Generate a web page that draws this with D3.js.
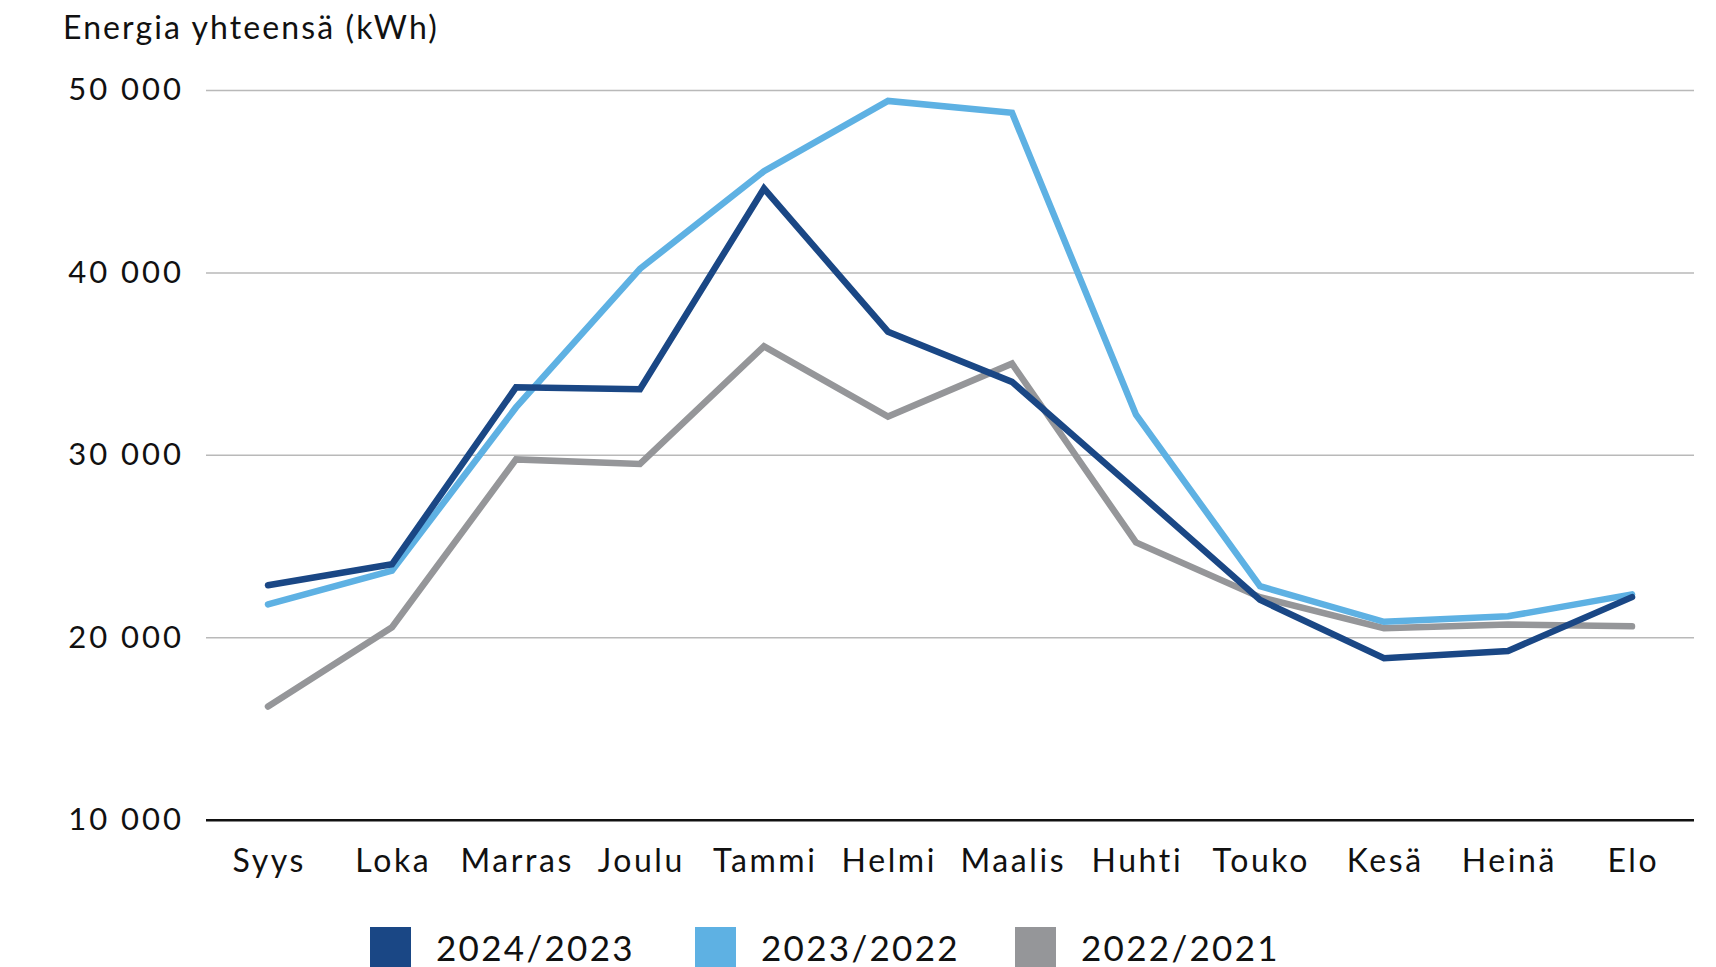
<!DOCTYPE html>
<html>
<head>
<meta charset="utf-8">
<script src="https://cdn.jsdelivr.net/npm/d3@7"></script>
<style>
  html, body { margin: 0; padding: 0; background: #fff; }
  svg { display: block; font-family: Lato, "Noto Sans", sans-serif; }
</style>
</head>
<body>
<svg id="chart" width="1716" height="967"></svg>
<script>
// data
const months = ['Syys', 'Loka', 'Marras', 'Joulu', 'Tammi', 'Helmi', 'Maalis', 'Huhti', 'Touko', 'Kesä', 'Heinä', 'Elo'];
const seriesNames = ['2024/2023', '2023/2022', '2022/2021'];
const v2024 = [22850, 24000, 33700, 33600, 44600, 36750, 34000, 28050, 22050, 18850, 19250, 22200];
const v2023 = [21800, 23650, 32600, 40200, 45550, 49400, 48750, 32200, 22800, 20850, 21150, 22350];
const v2022 = [16200, 20550, 29750, 29500, 35950, 32100, 35000, 25200, 22200, 20500, 20700, 20600];
const yTicks = [10000, 20000, 30000, 40000, 50000];

const colors = ['#1a4785', '#5eb1e3', '#959699'];
const series = [v2024, v2023, v2022];

const svg = d3.select('#chart');

const x = d3.scaleBand().domain(months).range([206, 1694]);
const y = d3.scaleLinear().domain([10000, 50000]).range([819.7, 90]);

// title
svg.append('text')
  .attr('x', 63)
  .attr('y', 39)
  .attr('font-size', 32)
  .attr('letter-spacing', 2.1)
  .attr('fill', '#111')
  .text('Energia yhteensä (kWh)');

// gridlines + y labels
const fmt = (d) => d3.format(',')(d).replace(',', ' ');
const yAxis = svg.append('g')
  .attr('transform', 'translate(206,0)')
  .call(d3.axisLeft(y).tickValues(yTicks).tickSize(-1488).tickPadding(22).tickFormat(fmt));
yAxis.select('.domain').remove();
yAxis.selectAll('.tick line')
  .attr('stroke', (d) => d === 10000 ? '#111' : '#b9b9b9')
  .attr('stroke-width', (d) => d === 10000 ? 2.5 : 1.5);
yAxis.selectAll('.tick text')
  .attr('font-size', 31)
  .attr('letter-spacing', 3)
  .attr('font-family', 'Lato, sans-serif')
  .attr('fill', '#111');

// x labels
const xAxis = svg.append('g')
  .attr('transform', 'translate(0,819.7)')
  .call(d3.axisBottom(x).tickSize(0).tickPadding(30));
xAxis.select('.domain').remove();
xAxis.selectAll('.tick text')
  .attr('font-size', 32)
  .attr('letter-spacing', 2.6)
  .attr('dx', 1.3)
  .attr('font-family', 'Lato, sans-serif')
  .attr('fill', '#111');

// lines, oldest underneath
const line = d3.line()
  .x((d, i) => x(months[i]) + x.bandwidth() / 2)
  .y((d) => y(d));

[2, 1, 0].forEach((k) => {
  svg.append('path')
    .datum(series[k])
    .attr('d', line)
    .attr('fill', 'none')
    .attr('stroke', colors[k])
    .attr('stroke-width', 6.5)
    .attr('stroke-linecap', 'round')
    .attr('stroke-linejoin', 'miter');
});

// legend
const legendX = [370, 695, 1015];
const legend = svg.append('g');
seriesNames.forEach((name, i) => {
  legend.append('rect')
    .attr('x', legendX[i])
    .attr('y', 927)
    .attr('width', 41)
    .attr('height', 50)
    .attr('fill', colors[i]);
  legend.append('text')
    .attr('x', legendX[i] + 66)
    .attr('y', 961)
    .attr('font-size', 35)
    .attr('letter-spacing', 2.3)
    .attr('fill', '#111')
    .text(name);
});
</script>
</body>
</html>
